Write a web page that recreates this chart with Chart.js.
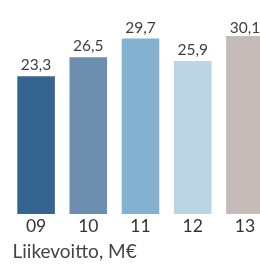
<!DOCTYPE html>
<html><head><meta charset="utf-8">
<script src="https://cdn.jsdelivr.net/npm/chart.js@4"></script>
<style>
html,body{margin:0;padding:0;overflow:hidden;background:#fff;width:260px;height:266px;}
#wrap{position:absolute;left:0;top:0;width:271px;height:266px;}
</style></head>
<body><div id="wrap"><canvas id="c"></canvas></div>
<script>
const categories = ["09","10","11","12","13"];
const values = [23.3, 26.5, 29.7, 25.9, 30.1];
const valueLabels = ["23,3","26,5","29,7","25,9","30,1"];
const barColors = ["#35658E","#6D8EAF","#84B1CF","#BCD5E4","#C5BCB9"];
const titleText = "Liikevoitto, M€";

const textPlugin = {
  id: 'textPlugin',
  afterDatasetsDraw(chart) {
    const ctx = chart.ctx;
    const meta = chart.getDatasetMeta(0);
    ctx.save();
    ctx.font = '15.5px Lato';
    ctx.fillStyle = '#404040';
    ctx.textAlign = 'center';
    ctx.textBaseline = 'alphabetic';
    meta.data.forEach((bar, i) => {
      ctx.fillText(valueLabels[i], bar.x, Math.max(bar.y - 6, 33));
    });
    ctx.font = '19px Lato';
    ctx.fillStyle = '#444';
    ctx.textAlign = 'left';
    ctx.fillText(titleText, chart.chartArea.left + 2.5, chart.height - 8);
    ctx.restore();
  }
};

new Chart(document.getElementById('c'), {
  type: 'bar',
  data: { labels: categories, datasets: [{ data: values, backgroundColor: barColors, borderWidth: 0 }] },
  options: {
    responsive: true, maintainAspectRatio: false, animation: false,
    layout: { padding: { left: 10, right: 0, top: 0, bottom: 27 } },
    plugins: { legend: { display: false }, tooltip: { enabled: false }, title: { display: false } },
    scales: {
      x: { grid: { display: false, drawTicks: false }, border: { display: false },
        ticks: { color: '#333', font: { family: 'Lato', size: 17.5 }, padding: 2 },
        categoryPercentage: 0.8, barPercentage: 0.91 },
      y: { display: false, min: 0, max: 36.2 }
    }
  },
  plugins: [textPlugin]
});
</script></body></html>
